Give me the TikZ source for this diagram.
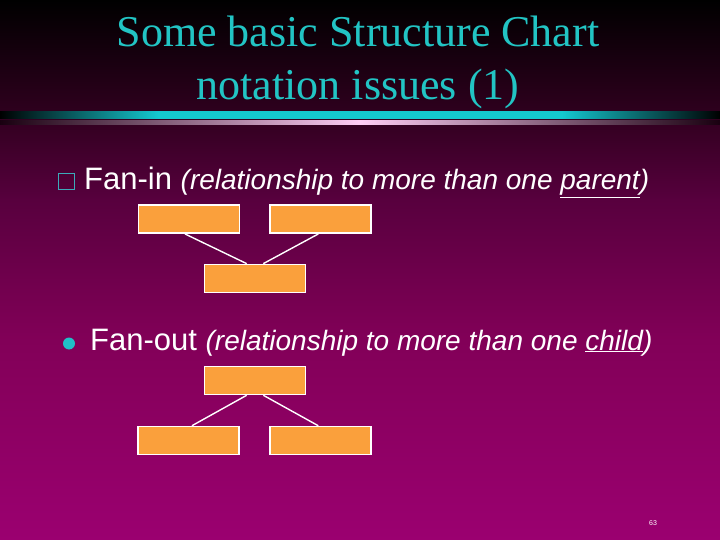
\documentclass[tikz,border=0pt]{standalone}
\usepackage{fontspec}
\setmainfont{Liberation Serif}
\newfontfamily\arialfont{Liberation Sans}
\definecolor{bgA}{RGB}{0,0,0}
\definecolor{bgB}{RGB}{50,0,32}
\definecolor{bgC}{RGB}{88,0,62}
\definecolor{bgD}{RGB}{130,0,88}
\definecolor{bgE}{RGB}{155,0,112}
\definecolor{titlecyan}{RGB}{34,196,196}
\definecolor{barcyan}{RGB}{20,200,208}
\definecolor{barpink}{RGB}{255,205,245}
\definecolor{barend}{RGB}{25,0,16}
\definecolor{bulletcyan}{RGB}{32,192,200}
\definecolor{sqcyan}{RGB}{60,170,185}
\definecolor{boxorange}{RGB}{250,160,60}
\pgfdeclarehorizontalshading{cyanbar}{100bp}{color(0bp)=(black); color(25bp)=(black); color(36bp)=(barcyan); color(64bp)=(barcyan); color(75bp)=(black); color(100bp)=(black)}
\pgfdeclarehorizontalshading{pinkbar}{100bp}{color(0bp)=(barend); color(25bp)=(barend); color(50bp)=(barpink); color(75bp)=(barend); color(100bp)=(barend)}
\tikzset{
  chartbox/.style={draw=white, line width=1.5pt, fill=boxorange, minimum width=101pt, minimum height=28pt, inner sep=0pt},
  link/.style={draw=white, line width=1.4pt},
  titletext/.style={text=titlecyan, font=\fontsize{44}{52}\selectfont, anchor=base},
  bullettext/.style={text=white, anchor=base west, inner sep=0pt},
}
\begin{document}
\begin{tikzpicture}[x=1pt, y=-1pt]
\useasboundingbox (0,0) rectangle (720,540);
% background
\shade[top color=bgA, bottom color=bgB] (0,0) rectangle (720,121);
\shade[top color=bgB, bottom color=bgC] (0,120) rectangle (720,201);
\shade[top color=bgC, bottom color=bgD] (0,200) rectangle (720,341);
\shade[top color=bgD, bottom color=bgE] (0,340) rectangle (720,540);
% bars
\shade[shading=cyanbar] (0,112) rectangle (720,119);
\shade[shading=pinkbar] (0,121) rectangle (720,125);
% title
\node[titletext] (t1) at (358,46.7) {Some basic Structure Chart};
\node[titletext] (t2) at (358,99.3) {notation issues (1)};
% bullet 1
\node[draw=sqcyan, line width=1.6pt, minimum size=16pt, inner sep=0pt] (sq) at (66.5,181.5) {};
\node[bullettext] (fanin) at (84,190) {\arialfont\fontsize{31}{36}\selectfont Fan-in \fontsize{28}{34}\selectfont\itshape (relationship to more than one \underline{parent})};
% fan-in chart
\node[chartbox] (a1) at (188.8,219.2) {};
\node[chartbox] (a2) at (320.5,219.2) {};
\node[chartbox] (b) at (254.9,278.4) {};
\draw[link] ([xshift=-3.8pt]a1.south) -- ([xshift=-8.2pt]b.north);
\draw[link] ([xshift=-2.2pt]a2.south) -- ([xshift=8.4pt]b.north);
% bullet 2
\node[circle, fill=bulletcyan, minimum size=12pt, inner sep=0pt] (dot) at (69,343.5) {};
\node[bullettext] (fanout) at (90,350) {\arialfont\fontsize{31}{36}\selectfont Fan-out \fontsize{28}{34}\selectfont\itshape (relationship to more than one \underline{child})};
% fan-out chart
\node[chartbox] (c) at (254.9,380.5) {};
\node[chartbox] (d1) at (188.7,440.5) {};
\node[chartbox] (d2) at (320.5,440.5) {};
\draw[link] ([xshift=-8.2pt]c.south) -- ([xshift=3.2pt]d1.north);
\draw[link] ([xshift=8.4pt]c.south) -- ([xshift=-2.2pt]d2.north);
% page number
\node[text=white, font=\arialfont\fontsize{7}{8}\selectfont, inner sep=0pt] (pg) at (653,523) {63};
\end{tikzpicture}
\end{document}
